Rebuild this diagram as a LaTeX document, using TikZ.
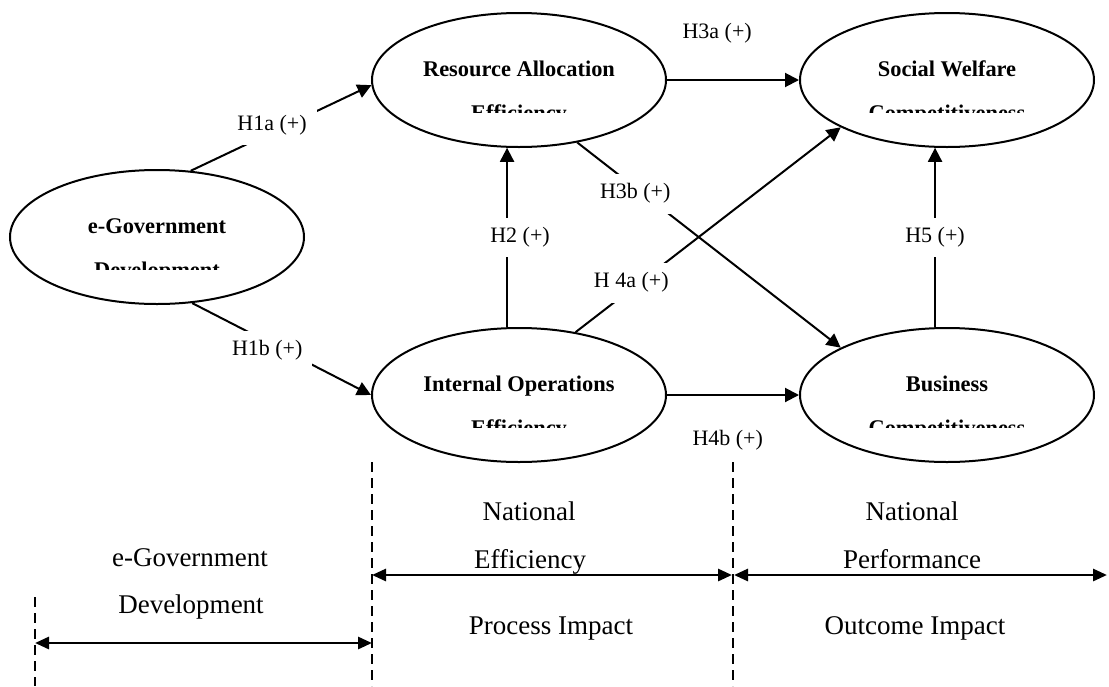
\documentclass[tikz,border=0pt]{standalone}
\usepackage{fontspec}
\setmainfont{Liberation Serif}
\usepackage{trimclip}
\usetikzlibrary{arrows.meta,positioning,shapes.geometric}

% first line shown in full, second line cut off below its top half
\newcommand{\ovaltext}[2]{%
  \makebox[0pt]{\raisebox{1.8pt}[0pt][0pt]{#1}}%
  \makebox[0pt]{\raisebox{-16.2pt}[0pt][0pt]{\clipbox{0pt 6.3pt 0pt 0pt}{#2}}}}

\begin{document}
\begin{tikzpicture}[x=0.5pt, y=-0.5pt,
    construct/.style={ellipse, draw, line width=1pt, minimum width=147pt,
      minimum height=67pt, inner sep=0pt,
      font=\fontsize{11.2}{13}\selectfont\bfseries},
    link/.style={line width=1pt, -{Triangle[length=7pt,width=7pt]}},
    hyp/.style={fill=white, inner sep=5pt, font=\fontsize{11}{13}\selectfont},
    divider/.style={line width=1pt, dash pattern=on 5pt off 3pt},
    span/.style={line width=1.4pt,
      {Triangle[length=7pt,width=6pt]}-{Triangle[length=7pt,width=6pt]}},
    phase/.style={anchor=base, inner sep=0pt, font=\fontsize{13.5}{16}\selectfont}]
  \useasboundingbox (0,0) rectangle (1109,686);

  % constructs
  \node[construct] (egov) at (157,237) {\ovaltext{e-Government}{Development}};
  \node[construct] (rae) at (519,80) {\ovaltext{Resource Allocation}{Efficiency}};
  \node[construct] (ioe) at (519,395) {\ovaltext{Internal Operations}{Efficiency}};
  \node[construct] (swc) at (947,80) {\ovaltext{Social Welfare}{Competitiveness}};
  \node[construct] (bc) at (947,395) {\ovaltext{Business}{Competitiveness}};

  % hypotheses
  \draw[link] (egov.63) -- node[hyp, pos=0.45, yshift=3.5pt] {H1a (+)} (rae.182);
  \draw[link] (egov.-62) -- node[hyp, pos=0.42, yshift=-4.5pt] {H1b (+)} (ioe.west);
  \draw[link] (ioe.100) -- node[hyp, xshift=6.5pt] {H2 (+)} (rae.-100);
  \draw[link] (rae.east) -- node[hyp, pos=0.38, yshift=23.5pt] {H3a (+)} (swc.west);
  \draw[link] (rae.-47) -- node[hyp, pos=0.22, yshift=-3pt] {H3b (+)} (bc.156);
  \draw[link] (ioe.48) -- node[hyp, pos=0.21, yshift=3.3pt] {H 4a (+)} (swc.204);
  \draw[link] (ioe.east) -- node[hyp, pos=0.46, yshift=-22.5pt] {H4b (+)} (bc.west);
  \draw[link] (bc.100) -- node[hyp] {H5 (+)} (swc.-100);

  % stages
  \coordinate (d1top) at (35,597);
  \coordinate (d1bot) at (35,686);
  \coordinate (d2top) at (372,462);
  \coordinate (d2bot) at (372,686);
  \coordinate (d3top) at (733,462);
  \coordinate (d3bot) at (733,686);
  \draw[divider] (d1top) -- (d1bot);
  \draw[divider] (d2top) -- (d2bot);
  \draw[divider] (d3top) -- (d3bot);

  \coordinate (s1a) at (35,643);
  \coordinate (s1b) at (372,643);
  \coordinate (s2a) at (372,575);
  \coordinate (s2b) at (732,575);
  \coordinate (s3a) at (734,575);
  \coordinate (s3b) at (1107,575);
  \draw[span] (s1a) -- (s1b);
  \draw[span] (s2a) -- (s2b);
  \draw[span] (s3a) -- (s3b);

  \node[phase] (st1a) at (190,566) {e-Government};
  \node[phase] (st1b) at (191,613) {Development};
  \node[phase] (st2a) at (529,520) {National};
  \node[phase] (st2b) at (530,568) {Efficiency};
  \node[phase] (st2c) at (551,634) {Process Impact};
  \node[phase] (st3a) at (912,520) {National};
  \node[phase] (st3b) at (912,568) {Performance};
  \node[phase] (st3c) at (915,634) {Outcome Impact};
\end{tikzpicture}
\end{document}
